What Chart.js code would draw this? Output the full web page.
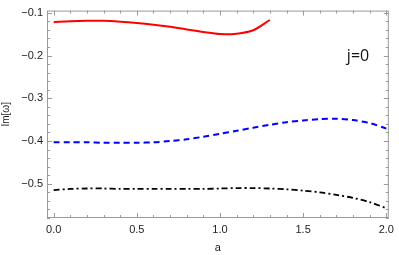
<!DOCTYPE html>
<html>
<head>
<meta charset="utf-8">
<script src="https://cdn.jsdelivr.net/npm/chart.js@4/dist/chart.umd.min.js"></script>
<style>
  html, body { margin: 0; padding: 0; background: #fff; }
  #wrap { width: 399px; height: 255px; position: relative; }
</style>
</head>
<body>
<div id="wrap"><canvas id="chart"></canvas></div>
<script>
// data
const redA = [0.0, 0.1, 0.2, 0.3, 0.4, 0.5, 0.6, 0.7, 0.8, 0.9, 1.0, 1.1, 1.2, 1.3];
const redIm = [-0.122, -0.120, -0.119, -0.119, -0.121, -0.124, -0.128, -0.133, -0.139, -0.145, -0.150, -0.149, -0.141, -0.117];

const fullA = [0.0, 0.1, 0.2, 0.3, 0.4, 0.5, 0.6, 0.7, 0.8, 0.9, 1.0, 1.1, 1.2, 1.3, 1.4, 1.5, 1.6, 1.7, 1.8, 1.9, 2.0];
const blueIm = [-0.403, -0.403, -0.403, -0.404, -0.404, -0.404, -0.403, -0.400, -0.396, -0.390, -0.383, -0.376, -0.369, -0.362, -0.356, -0.352, -0.349, -0.348, -0.351, -0.358, -0.371];
const blackIm = [-0.515, -0.512, -0.511, -0.511, -0.512, -0.512, -0.512, -0.512, -0.512, -0.512, -0.511, -0.510, -0.510, -0.511, -0.513, -0.516, -0.520, -0.526, -0.533, -0.543, -0.557];

const xTicks = [0.0, 0.5, 1.0, 1.5, 2.0];
const yTicks = [-0.5, -0.4, -0.3, -0.2, -0.1];

function pts(xs, ys) {
  return xs.map((x, i) => ({ x: x, y: ys[i] }));
}

const frameColor = '#9a9a9a';

// Mathematica-like frame with inward ticks on all sides
const frameTicks = {
  id: 'frameTicks',
  afterDraw(chart) {
    const ctx = chart.ctx;
    const area = chart.chartArea;
    const xs = chart.scales.x;
    const ys = chart.scales.y;
    ctx.save();
    ctx.strokeStyle = frameColor;
    ctx.lineWidth = 1;
    ctx.strokeRect(area.left + 0.5, area.top + 0.5, area.right - area.left - 1, area.bottom - area.top - 1);
    ctx.beginPath();
    for (let i = 0; i <= 20; i++) {
      const v = i / 10;
      const px = Math.round(xs.getPixelForValue(v)) + 0.5;
      const len = (i % 5 === 0) ? 5 : 3;
      ctx.moveTo(px, area.bottom);
      ctx.lineTo(px, area.bottom - len);
      ctx.moveTo(px, area.top);
      ctx.lineTo(px, area.top + len);
    }
    for (let i = 0; i <= 24; i++) {
      const v = -0.58 + i * 0.02;
      if (v > -0.095) break;
      const py = Math.round(ys.getPixelForValue(v)) + 0.5;
      const len = (i % 5 === 4) ? 5 : 3;
      ctx.moveTo(area.left, py);
      ctx.lineTo(area.left + len, py);
      ctx.moveTo(area.right, py);
      ctx.lineTo(area.right - len, py);
    }
    ctx.stroke();

    ctx.fillStyle = '#111';
    ctx.font = '16px "Open Sans", "DejaVu Sans", sans-serif';
    ctx.textAlign = 'center';
    ctx.textBaseline = 'middle';
    ctx.fillText('j=0', xs.getPixelForValue(1.83), ys.getPixelForValue(-0.202));
    ctx.restore();
  }
};

new Chart(document.getElementById('chart'), {
  type: 'scatter',
  data: {
    datasets: [
      {
        data: pts(redA, redIm),
        showLine: true,
        borderColor: '#ff0000',
        borderWidth: 2,
        pointRadius: 0,
        tension: 0.3,
        fill: false
      },
      {
        data: pts(fullA, blueIm),
        showLine: true,
        borderColor: '#0000ff',
        borderWidth: 2,
        borderDash: [6, 4],
        pointRadius: 0,
        tension: 0.3,
        fill: false
      },
      {
        data: pts(fullA, blackIm),
        showLine: true,
        borderColor: '#000000',
        borderWidth: 1.8,
        borderDash: [6, 3, 2, 3],
        pointRadius: 0,
        tension: 0.3,
        fill: false
      }
    ]
  },
  options: {
    responsive: true,
    maintainAspectRatio: false,
    animation: false,
    layout: { padding: { top: 4, right: 5, left: 0, bottom: 0 } },
    plugins: {
      legend: { display: false },
      tooltip: { enabled: false }
    },
    scales: {
      x: {
        type: 'linear',
        min: -0.04,
        max: 2.015,
        afterBuildTicks: axis => { axis.ticks = xTicks.map(v => ({ value: v })); },
        afterFit: axis => { axis.height = 37; },
        grid: { display: false, drawTicks: false },
        border: { display: false },
        ticks: {
          padding: 5,
          color: '#222',
          font: { size: 11, family: '"Liberation Sans", Arial, sans-serif' },
          maxRotation: 0,
          callback: v => v.toFixed(1)
        },
        title: {
          display: true,
          text: 'a',
          color: '#222',
          padding: { top: 2, bottom: 0 },
          font: { size: 11, family: '"Liberation Sans", Arial, sans-serif' }
        }
      },
      y: {
        type: 'linear',
        min: -0.58,
        max: -0.095,
        afterBuildTicks: axis => { axis.ticks = yTicks.map(v => ({ value: v })); },
        afterFit: axis => { axis.width = 47; },
        grid: { display: false, drawTicks: false },
        border: { display: false },
        ticks: {
          padding: 4,
          color: '#222',
          font: { size: 11, family: '"Liberation Sans", Arial, sans-serif' },
          callback: v => '\u2212' + Math.abs(v).toFixed(1)
        },
        title: {
          display: true,
          text: 'Im[\u03c9]',
          color: '#222',
          padding: { top: 0, bottom: 2 },
          font: { size: 10, family: '"Liberation Sans", Arial, sans-serif' }
        }
      }
    }
  },
  plugins: [frameTicks]
});
</script>
</body>
</html>
